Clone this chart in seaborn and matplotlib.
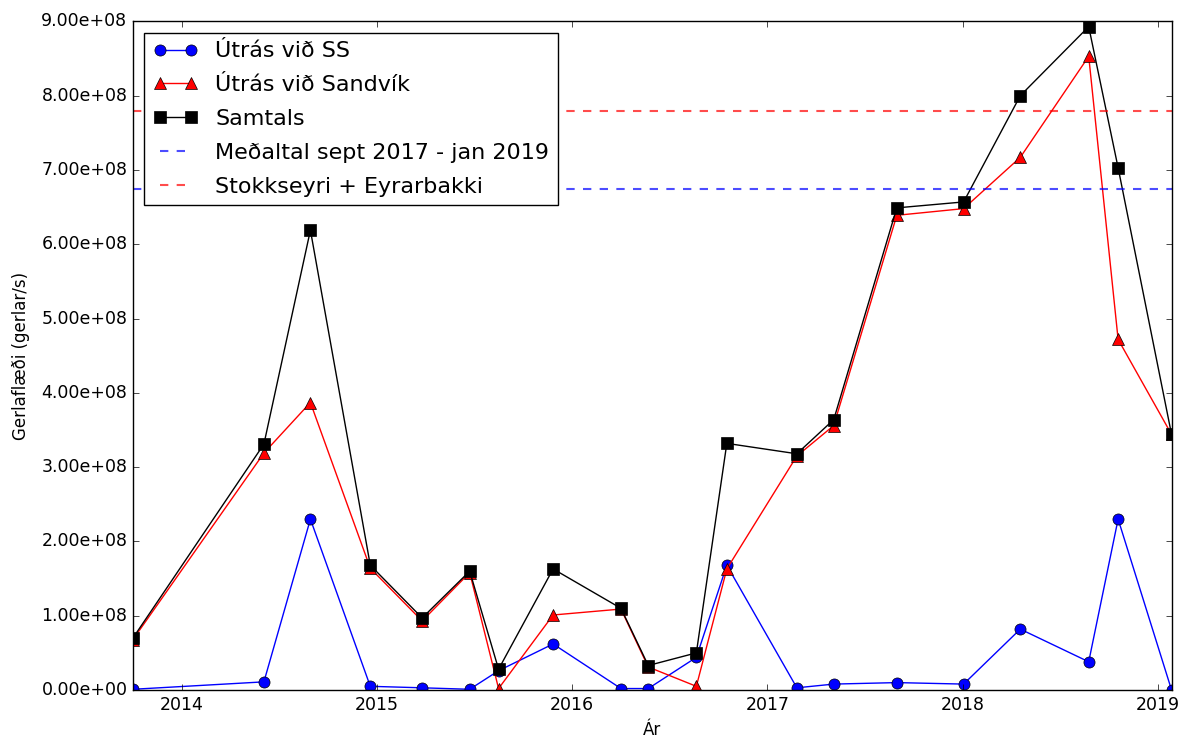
import matplotlib
matplotlib.use("Agg")
import matplotlib.pyplot as plt
import matplotlib.dates as mdates
from matplotlib.ticker import FormatStrFormatter
import seaborn as sns
import pandas as pd

# sampling dates
dates = ["2013-10-02", "2014-06-04", "2014-08-30", "2014-12-20", "2015-03-27",
         "2015-06-24", "2015-08-17", "2015-11-27", "2016-04-02", "2016-05-23",
         "2016-08-21", "2016-10-17", "2017-02-25", "2017-05-05", "2017-08-31",
         "2018-01-03", "2018-04-19", "2018-08-25", "2018-10-19", "2019-01-27"]

# gerlaflæði, gerlar/s
utras_ss = [0.01e8, 0.11e8, 2.30e8, 0.05e8, 0.03e8, 0.01e8, 0.26e8, 0.62e8, 0.02e8, 0.02e8,
            0.44e8, 1.68e8, 0.03e8, 0.08e8, 0.10e8, 0.08e8, 0.82e8, 0.38e8, 2.30e8, 0.0]
utras_sandvik = [0.68e8, 3.19e8, 3.87e8, 1.64e8, 0.93e8, 1.58e8, 0.02e8, 1.01e8, 1.09e8, 0.31e8,
                 0.05e8, 1.63e8, 3.15e8, 3.56e8, 6.39e8, 6.48e8, 7.17e8, 8.53e8, 4.72e8, 3.44e8]
samtals = [0.70e8, 3.31e8, 6.19e8, 1.68e8, 0.97e8, 1.60e8, 0.28e8, 1.63e8, 1.10e8, 0.33e8,
           0.50e8, 3.32e8, 3.18e8, 3.64e8, 6.49e8, 6.57e8, 8.00e8, 8.93e8, 7.03e8, 3.44e8]

medaltal = 6.74e8      # Meðaltal sept 2017 - jan 2019
stokkseyri = 7.80e8    # Stokkseyri + Eyrarbakki

df = pd.DataFrame({"dags": pd.to_datetime(dates), "ss": utras_ss,
                   "sandvik": utras_sandvik, "samtals": samtals})

plt.style.use("classic")
plt.rcParams["figure.facecolor"] = "white"
plt.rcParams["savefig.facecolor"] = "white"
plt.rcParams["xtick.labelsize"] = 12.5
plt.rcParams["ytick.labelsize"] = 12.5

fig, ax = plt.subplots(figsize=(11.87, 7.38), dpi=100)
fig.subplots_adjust(left=0.112, right=0.987, top=0.971, bottom=0.065)

sns.lineplot(data=df, x="dags", y="ss", ax=ax, color="b", marker="o", markersize=8,
             markeredgecolor="k", markeredgewidth=0.5, linewidth=1, label="Útrás við SS")
sns.lineplot(data=df, x="dags", y="sandvik", ax=ax, color="r", marker="^", markersize=8,
             markeredgecolor="k", markeredgewidth=0.5, linewidth=1, label="Útrás við Sandvík")
sns.lineplot(data=df, x="dags", y="samtals", ax=ax, color="k", marker="s", markersize=8,
             markeredgecolor="k", markeredgewidth=0.5, linewidth=1, label="Samtals")
ax.axhline(medaltal, color="b", linestyle="--", linewidth=1.5, alpha=0.7,
           label="Meðaltal sept 2017 - jan 2019")
ax.axhline(stokkseyri, color="r", linestyle="--", linewidth=1.5, alpha=0.7,
           label="Stokkseyri + Eyrarbakki")

ax.set_xlim(df["dags"].min(), df["dags"].max())
ax.set_ylim(0, 9e8)
ax.xaxis.set_major_locator(mdates.YearLocator())
ax.xaxis.set_major_formatter(mdates.DateFormatter("%Y"))
ax.yaxis.set_major_formatter(FormatStrFormatter("%.2e"))
ax.set_xlabel("Ár")
ax.set_ylabel("Gerlaflæði (gerlar/s)", labelpad=8)
ax.legend(loc="upper left", fontsize=16, labelspacing=0.62)

fig.savefig("out.png", dpi=100)
